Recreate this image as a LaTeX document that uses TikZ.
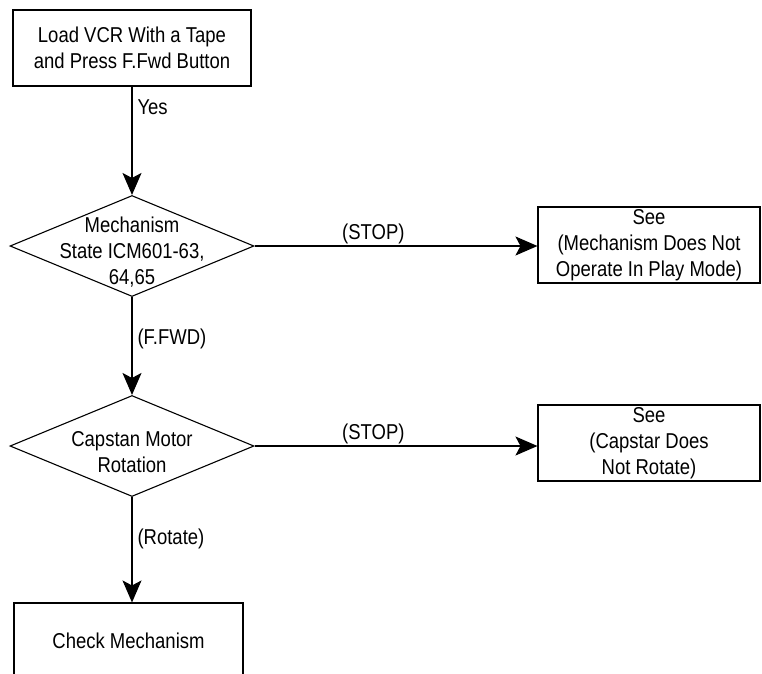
\documentclass[tikz,border=0pt]{standalone}
\usepackage{fontspec}
\setmainfont[FakeStretch=0.86]{Liberation Sans}
\usetikzlibrary{arrows.meta, shapes.geometric}

\begin{document}
\begin{tikzpicture}[x=1pt, y=-1pt,
    every node/.style={font=\fontsize{21.5}{26}\selectfont},
    box/.style={draw, line width=1.1pt, inner sep=0pt, align=center, minimum height=76pt},
    decision/.style={draw, diamond, line width=1.1pt, inner sep=0pt, minimum width=244pt, minimum height=101pt},
    flow/.style={line width=1.1pt, -{Stealth[length=22pt, width=19pt, inset=5pt]}},
    tag/.style={inner sep=5pt}]

    \clip (0,0) rectangle (762,673);

    % main column
    \node[box, minimum width=238pt] (load) at (132,48) {Load VCR With a Tape\\and Press F.Fwd Button};
    \node[decision, label={[align=center, yshift=-6pt]center:{Mechanism\\State ICM601-63,\\64,65}}] (mech) at (132,246) {};
    \node[decision, label={[align=center, yshift=-6pt]center:{Capstan Motor\\Rotation}}] (cap) at (132,446) {};
    \node[box, minimum width=229pt] (chk) at (128.5,641) {Check Mechanism};

    % side boxes
    \node[box, minimum width=222pt] (see1) at (649,245) {See\\(Mechanism Does Not\\Operate In Play Mode)};
    \node[box, minimum width=222pt] (see2) at (649,443) {See\\(Capstar Does\\Not Rotate)};

    \draw[flow] (load) -- node[tag, right, pos=0.19] {Yes} (mech);
    \draw[flow] (mech) -- node[tag, right, pos=0.43] {(F.FWD)} (cap);
    \draw[flow] (cap.south) -- node[tag, right, pos=0.40] {(Rotate)} (cap.south |- chk.north);
    \draw[flow] (mech.east) -- node[above, inner sep=2pt, pos=0.42] {(STOP)} (mech.east -| see1.west);
    \draw[flow] (cap.east) -- node[above, inner sep=2pt, pos=0.42] {(STOP)} (cap.east -| see2.west);
\end{tikzpicture}
\end{document}
